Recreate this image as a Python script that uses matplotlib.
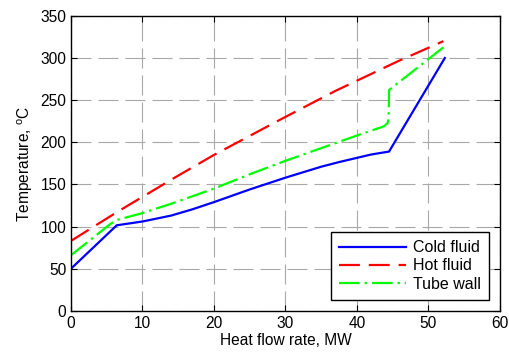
import matplotlib
matplotlib.use("Agg")
import matplotlib.pyplot as plt

plt.rcParams['font.family'] = ['Liberation Sans', 'DejaVu Sans']
plt.rcParams['mathtext.fontset'] = 'custom'
plt.rcParams['mathtext.rm'] = 'Liberation Sans'

cold_x = [0, 6.4, 10, 14, 17, 20, 22.5, 25, 27.5, 30, 32.5, 35, 37.5, 40, 42, 44.5, 52.3]
cold_y = [50, 101.5, 106, 113, 120.5, 129, 136.5, 144, 151, 158, 164.5, 171, 176.5, 181.5, 185.5, 189, 300]

hot_x = [0, 6.4, 14.3, 20, 29.3, 37, 45.7, 52.1]
hot_y = [83, 117, 157, 185, 227, 261, 296, 320]

wall_x = [0, 5.5, 6.5, 10, 14, 20, 25, 30, 35, 40, 43.8, 44.3, 44.45, 44.5, 52.3]
wall_y = [66, 103, 108, 116, 127, 145, 162, 178, 193, 208, 219, 223, 230, 262, 314]

xticks = [0, 10, 20, 30, 40, 50, 60]
yticks = [0, 50, 100, 150, 200, 250, 300, 350]

FS = 11.2

fig = plt.figure(figsize=(5.09, 3.61), dpi=100)
ax = fig.add_axes([0.1395, 0.139, 0.8425, 0.817])

ax.plot(cold_x, cold_y, color='#0000ff', lw=1.6, label='Cold fluid')
ax.plot(hot_x, hot_y, color='#ff0000', lw=1.6, dashes=(9.4, 4), label='Hot fluid')
ax.plot(wall_x, wall_y, color='#00ff00', lw=1.6, dashes=(9.3, 2.2, 1.1, 2.2), label='Tube wall')

ax.set_xlim(0, 60)
ax.set_ylim(0, 350)
ax.set_xticks(xticks)
ax.set_yticks(yticks)
ax.set_axisbelow(True)
ax.grid(True, color='#a8a8a8', lw=0.8, dashes=(18, 6.3))
ax.tick_params(direction='in', top=True, right=True, labelsize=FS, length=4)
for s in ax.spines.values():
    s.set_linewidth(1.0)

ax.set_xlabel('Heat flow rate, MW', fontsize=FS, labelpad=2)
ax.set_ylabel('Temperature, $^{\\mathrm{o}}$C', fontsize=FS, labelpad=4)

leg = ax.legend(loc='lower right', fontsize=11.5, handlelength=4.15, handletextpad=0.45,
                fancybox=False, framealpha=1, edgecolor='black', borderaxespad=0.7,
                labelspacing=0.2, borderpad=0.5)
leg.get_frame().set_linewidth(1.0)

fig.savefig('out.png', dpi=100)
